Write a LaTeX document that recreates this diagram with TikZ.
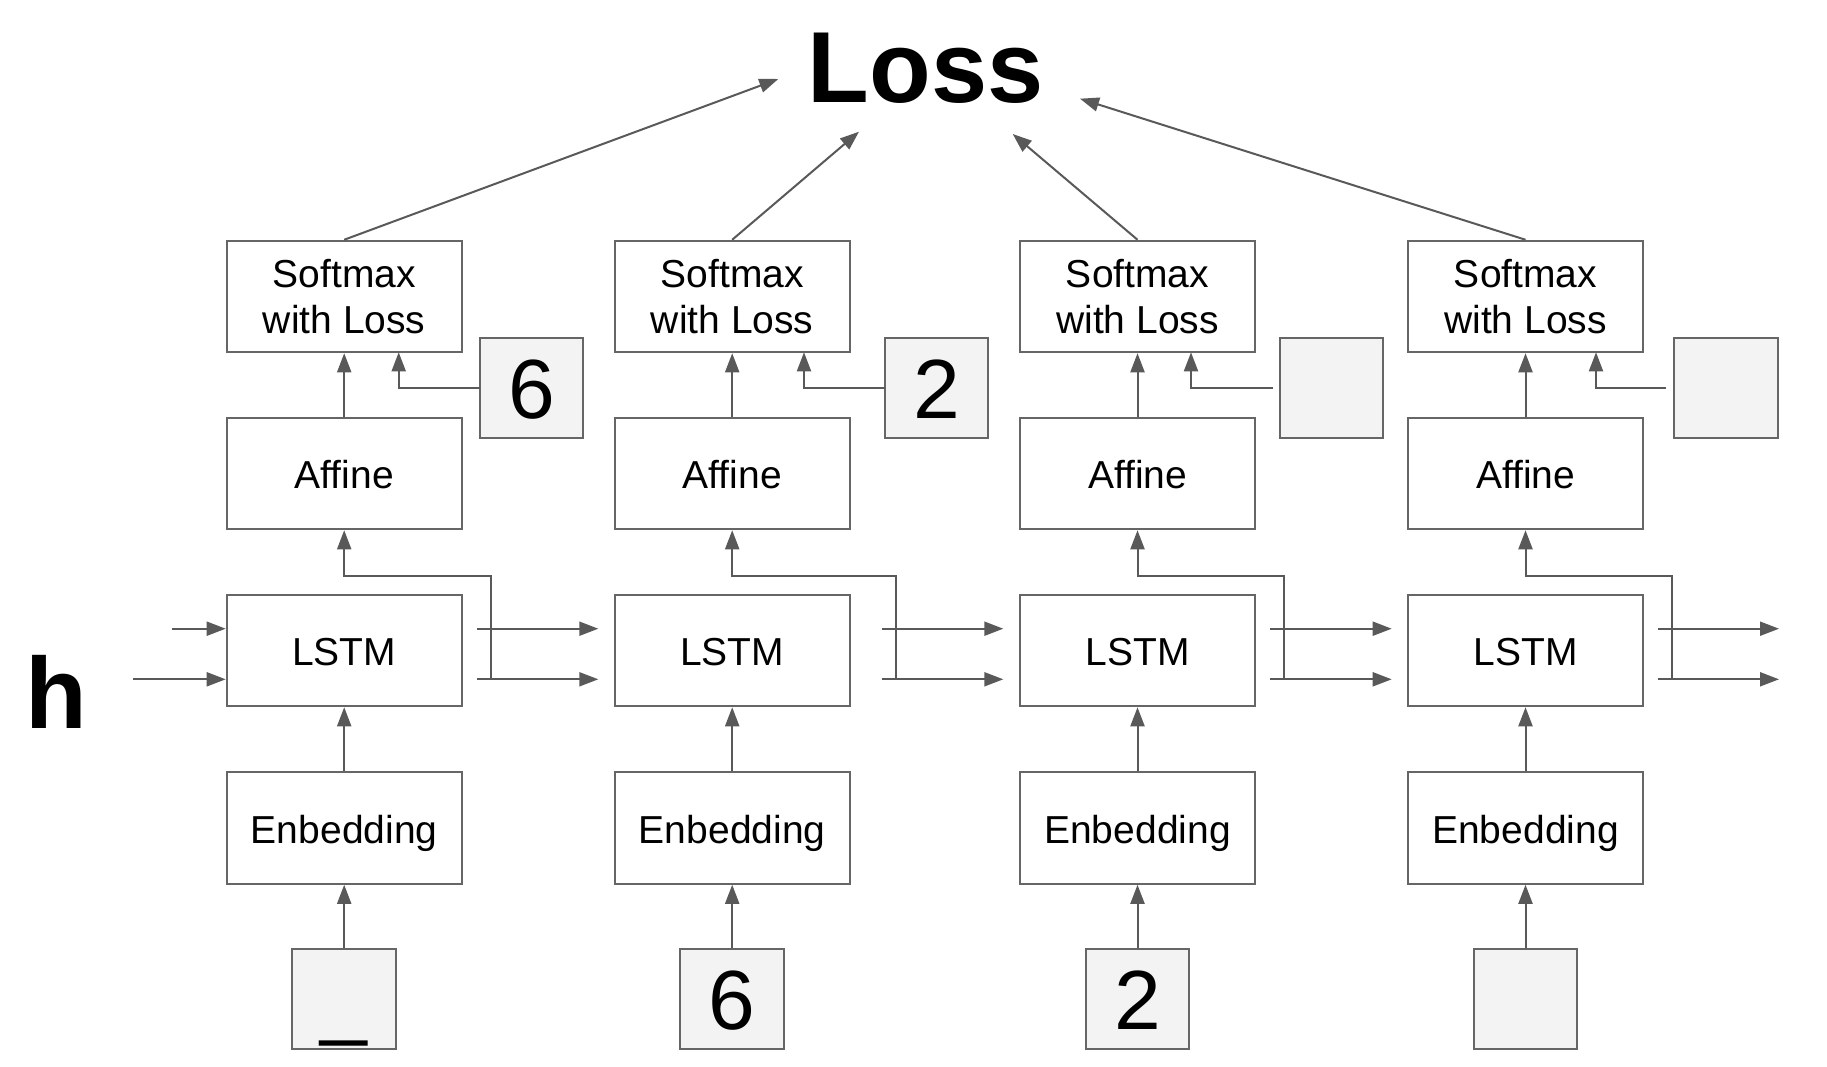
\documentclass[tikz,border=0pt]{standalone}
\usepackage{fontspec}
\setmainfont{Liberation Sans}
\usetikzlibrary{arrows.meta}
\definecolor{linegray}{RGB}{89,89,89}
\definecolor{boxgray}{RGB}{102,102,102}
\definecolor{tokenfill}{RGB}{243,243,243}
\tikzset{
  layer/.style={draw=boxgray, line width=2pt, fill=white, minimum width=235pt,
    minimum height=111.5pt, inner sep=0pt, font=\fontsize{39}{45.5}\selectfont,
    align=center},
  onelayer/.style={layer, text height=30pt, text depth=0pt},
  token/.style={draw=boxgray, line width=2pt, fill=tokenfill, minimum width=103.5pt,
    minimum height=100.5pt, inner sep=0pt, font=\fontsize{84}{84}\selectfont,
    text height=61pt, text depth=0pt},
  flow/.style={draw=linegray, line width=2pt, -{Triangle[length=19pt,width=14pt]}},
  bigword/.style={inner sep=0pt, anchor=base, font=\fontsize{101}{101}\selectfont\bfseries}
}
\begin{document}
\begin{tikzpicture}[x=1pt,y=-1pt]
\useasboundingbox (0,0) rectangle (1827,1067);

% title and state label
\node[bigword] (loss) at (925.5,102.7) {Loss};
\node[bigword] (h) at (56,728.3) {h};

% one column per time step:
% centre x / output start / branch x / output end / label box x / label link x / label link end / input token / target token
\foreach \i/\cx/\os/\bx/\oe/\lx/\lk/\le/\inp/\tgt in {
  1/344.2/477.3/490.7/598.3/531.5/398.7/480/\_/6,
  2/732.2/881.7/895.7/1003.3/936.7/804/885/6/2,
  3/1137.5/1270/1284.3/1391.7/1331.5/1191/1273.3/2/{},
  4/1525.5/1658.3/1672.3/1779/1726/1596/1666/{}/{}}{
  \node[layer] (soft\i) at (\cx,296.5) {Softmax\\with Loss};
  \node[onelayer] (aff\i) at (\cx,473.5) {Affine};
  \node[onelayer] (lstm\i) at (\cx,650.5) {LSTM};
  \node[onelayer] (emb\i) at (\cx,828) {Enbedding};
  \node[token] (in\i) at (\cx,999) {\inp};
  \node[token] (tgt\i) at (\lx,388.2) {\tgt};

  \draw[flow] (in\i) -- (emb\i);
  \draw[flow] (emb\i) -- (lstm\i);
  \draw[flow] (aff\i) -- (soft\i);

  % recurrent outputs c and h
  \coordinate (cs\i) at (\os,628.7);
  \coordinate (ce\i) at (\oe,628.7);
  \coordinate (hs\i) at (\os,679.3);
  \coordinate (he\i) at (\oe,679.3);
  \coordinate (hb\i) at (\bx,679.3);
  \draw[flow] (cs\i) -- (ce\i);
  \draw[flow] (hs\i) -- (he\i);

  % h branch up into Affine
  \draw[flow] (hb\i) |- (\cx,575.7) -- (aff\i.south);

  % target into the loss layer
  \coordinate (tl\i) at (\le,388.2);
  \draw[flow] (tl\i) -| (\lk,352.3);
}

% incoming c and h on the left
\coordinate (cin) at (171.7,628.7);
\coordinate (hin) at (133.3,679.3);
\draw[flow] (cin) -- (lstm1.west |- cin);
\draw[flow] (hin) -- (lstm1.west |- hin);

% all losses gathered
\coordinate (g1) at (778.3,79);
\coordinate (g2) at (859,131.7);
\coordinate (g3) at (1012.7,134);
\coordinate (g4) at (1080,98.7);
\foreach \i in {1,...,4}{
  \draw[flow] (soft\i.north) -- (g\i);
}
\end{tikzpicture}
\end{document}
